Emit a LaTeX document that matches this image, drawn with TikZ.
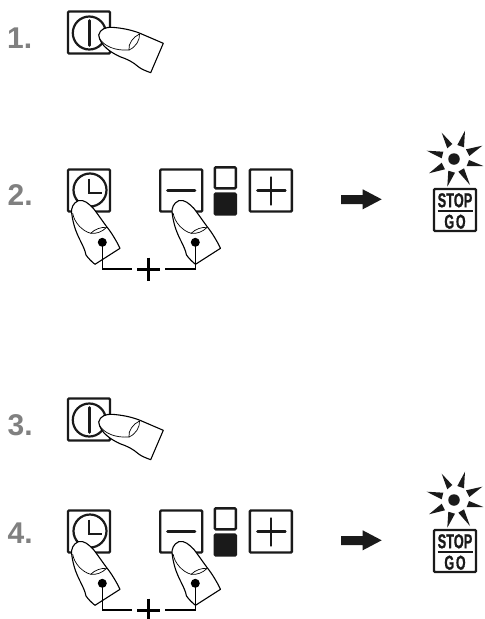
\documentclass[tikz,border=0pt]{standalone}
\usepackage{fontspec}
\setmainfont{Liberation Sans}
\newfontfamily\signfont{Liberation Sans}[BoldFeatures={FakeBold=1.2}]
\definecolor{steplabel}{HTML}{808080}
\definecolor{inkdark}{HTML}{1A1A1A}
\tikzset{
  stepnum/.style={anchor=base west, inner sep=0pt, text=steplabel, font=\fontsize{30}{30}\bfseries\selectfont},
  btn/.style={draw=inkdark, line width=2.4pt, rounded corners=1pt, minimum size=42pt, inner sep=0pt},
  lamp/.style={draw=inkdark, line width=2.4pt, rounded corners=1pt, minimum width=21pt, minimum height=21pt, inner sep=0pt},
  icon/.style={draw=inkdark, line width=2.8pt, line cap=round},
  finger/.style={draw=black, fill=white, line width=1.1pt, line join=round},
  fingerline/.style={draw=black, line width=0.7pt},
  dotmark/.style={circle, fill=black, minimum size=9pt, inner sep=0pt},
  plusmark/.style={minimum size=23pt, inner sep=0pt, outer sep=5pt, path picture={
    \draw[line width=3pt, black] (path picture bounding box.north) -- (path picture bounding box.south);
    \draw[line width=3pt, black] (path picture bounding box.west) -- (path picture bounding box.east);}},
  signtext/.style={inner sep=0pt, text=inkdark, font=\signfont\fontsize{20}{20}\bfseries\selectfont}
}
% finger coming in from the right
\newcommand{\fingerside}{
  \draw[finger] (98.7,35) .. controls (100,29) and (106,27) .. (112,27.3)
    .. controls (122,28) and (132,30) .. (140,33.3) -- (163.3,43.3) -- (150.7,72.7)
    .. controls (146,71) and (141,69) .. (138.3,66.7)
    .. controls (133,62) and (127,59) .. (120,56.7)
    .. controls (112,53) and (100,46) .. (98.7,35) -- cycle;
  \draw[fingerline] (99.5,38.5) .. controls (104,46) and (115,51) .. (129,50);
  \draw[fingerline] (139.5,34) .. controls (133,37) and (128,44) .. (129,50);
  \draw[fingerline] (139.5,34) .. controls (140,40) and (136,47) .. (129,50);
}
% finger coming in from below
\newcommand{\fingerdown}{
  \draw[finger] (78.3,200.7) .. controls (73,203) and (71,208) .. (71.7,213.3)
    .. controls (73,224) and (76,232) .. (80,240)
    .. controls (83,246) and (85,250) .. (86,255)
    .. controls (88,258) and (92,262) .. (95,264.3) -- (120,248.3)
    .. controls (116,240) and (111,232) .. (106.7,226.7)
    .. controls (101,219) and (97,213) .. (93.3,208.3)
    .. controls (89,204) and (84,199) .. (78.3,200.7) -- cycle;
  \draw[fingerline] (72.7,213.3) .. controls (74,222) and (82,231) .. (90.7,233.3);
  \draw[fingerline] (90.7,233.3) .. controls (95,229) and (101,227) .. (106.7,227.3);
  \draw[fingerline] (90.7,233.3) .. controls (96,234) and (102,232) .. (106.7,227.3);
}
\begin{document}
\begin{tikzpicture}[x=1pt, y=-1pt]
  \useasboundingbox (0,0) rectangle (485,619);

  \node[stepnum] (num1) at (7,48) {1.};
  \node[stepnum] (num2) at (7.5,205) {2.};
  \node[stepnum] (num3) at (7.5,435) {3.};
  \node[stepnum] (num4) at (7.5,543.5) {4.};

  % steps 1 and 3
  \foreach \r/\n in {0/A,387/B}{
    \begin{scope}[yshift=-\r pt]
      \node[btn] (power\n) at (89,32.5) {};
      \draw[inkdark, line width=2.2pt] (89.3,33) circle (16.5);
      \draw[icon] (89.3,20.5) -- (89.3,45.5);
      \fingerside
    \end{scope}
  }

  % steps 2 and 4
  \foreach \r/\n in {0/A,341/B}{
    \begin{scope}[yshift=-\r pt]
      \node[btn] (clock\n) at (89,190.5) {};
      \draw[inkdark, line width=2.2pt] (90,190) circle (16.5);
      \draw[inkdark, line width=2.2pt] (89.3,178.5) -- (89.3,192.7) -- (101.7,192.7);
      \node[btn] (minus\n) at (181.2,190.5) {};
      \draw[icon] (167.5,190.5) -- (195,190.5);
      \node[lamp] (lampon\n) at (225.3,177.8) {};
      \node[lamp, fill=inkdark] (lampoff\n) at (225.3,204) {};
      \node[btn] (more\n) at (270.8,190.5) {};
      \draw[icon] (257.5,190.7) -- (285.3,190.7);
      \draw[icon] (271,177.5) -- (271,204.5);
      \fingerdown
      \begin{scope}[xshift=100.5pt]
        \fingerdown
      \end{scope}
      \node[dotmark] (dotl\n) at (102.3,242.3) {};
      \node[dotmark] (dotr\n) at (195.3,242.3) {};
      \node[plusmark] (plus\n) at (148.7,269) {};
      \draw[line width=1.1pt] (dotl\n.center) |- (plus\n.west);
      \draw[line width=1.1pt] (dotr\n.center) |- (plus\n.east);

      % arrow
      \fill[inkdark] (341,195) -- (362.7,195) -- (362.7,189.3) -- (381.7,199.3)
        -- (362.7,209.3) -- (362.7,204) -- (341,204) -- cycle;

      % flashing lamp
      \node[circle, fill=inkdark, minimum size=11.5pt, inner sep=0pt] (flash\n) at (454,159) {};
      \fill[inkdark] (441.7,132.7) -- (447.3,148.3) -- (452.3,144) -- cycle;
      \fill[inkdark] (465,130.7) -- (457.3,145) -- (464,147.3) -- cycle;
      \fill[inkdark] (482.3,145.7) -- (466,149.3) -- (469.3,156) -- cycle;
      \fill[inkdark] (483.3,166) -- (469,160) -- (466.7,166) -- cycle;
      \fill[inkdark] (470,185) -- (458.3,171.7) -- (464,168.3) -- cycle;
      \fill[inkdark] (447.3,186.7) -- (448.3,170.7) -- (455,172.7) -- cycle;
      \fill[inkdark] (429,173.3) -- (441.7,162.7) -- (445,169.3) -- cycle;
      \fill[inkdark] (426.7,150.7) -- (443.3,151.7) -- (441.7,158.3) -- cycle;

      % sign
      \node[btn] (sign\n) at (455,210) {};
      \node[signtext, xscale=0.64] (stop\n) at (455,200.3) {STOP};
      \node[signtext, xscale=0.62] (go\n) at (455,221.7) {G\kern3pt O};
      \draw[inkdark, line width=1.6pt] (437.7,210.7) -- (473.3,210.7);
    \end{scope}
  }
\end{tikzpicture}
\end{document}
